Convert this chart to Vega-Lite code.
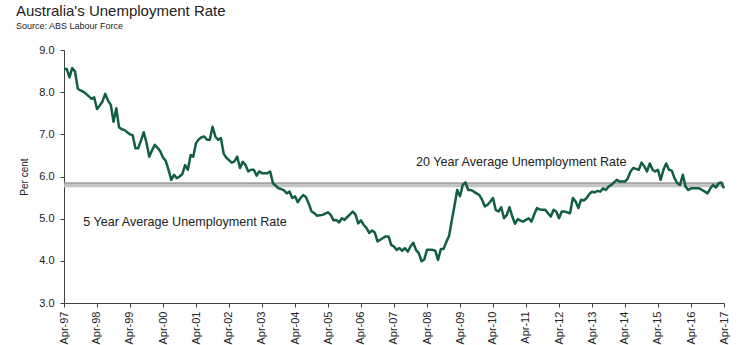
{
  "$schema": "https://vega.github.io/schema/vega-lite/v6.json",
  "width": 660,
  "height": 253,
  "autosize": {"type": "none"},
  "padding": {"left": 64, "top": 50, "right": 17, "bottom": 42},
  "background": "white",
  "config": {
    "view": {"stroke": null},
    "font": "Liberation Sans",
    "axis": {"grid": false, "domainColor": "#404040", "tickColor": "#404040", "labelColor": "#222222", "titleColor": "#222222", "labelFont": "Liberation Sans", "titleFont": "Liberation Sans"}
  },
  "title": {
    "text": "Australia's Unemployment Rate",
    "subtitle": "Source: ABS Labour Force",
    "anchor": "start",
    "frame": "group",
    "dx": -48,
    "offset": 13,
    "font": "Liberation Sans",
    "fontSize": 15,
    "fontWeight": "normal",
    "color": "#222222",
    "subtitleFont": "Liberation Sans",
    "subtitleFontSize": 9,
    "subtitleColor": "#222222",
    "subtitlePadding": 3
  },
  "datasets": {
    "rate": [
      {"d":"1997-04-01","v":8.55},{"d":"1997-05-01","v":8.55},{"d":"1997-06-01","v":8.35},{"d":"1997-07-01","v":8.57},{"d":"1997-08-01","v":8.49},{"d":"1997-09-01","v":8.08},{"d":"1997-10-01","v":8.04},{"d":"1997-11-01","v":8.01},{"d":"1997-12-01","v":7.96},
      {"d":"1998-01-01","v":7.9},{"d":"1998-02-01","v":7.84},{"d":"1998-03-01","v":7.88},{"d":"1998-04-01","v":7.6},{"d":"1998-05-01","v":7.68},{"d":"1998-06-01","v":7.78},{"d":"1998-07-01","v":7.96},{"d":"1998-08-01","v":7.8},{"d":"1998-09-01","v":7.7},{"d":"1998-10-01","v":7.3},{"d":"1998-11-01","v":7.62},{"d":"1998-12-01","v":7.17},
      {"d":"1999-01-01","v":7.12},{"d":"1999-02-01","v":7.1},{"d":"1999-03-01","v":7.05},{"d":"1999-04-01","v":7.0},{"d":"1999-05-01","v":6.98},{"d":"1999-06-01","v":6.67},{"d":"1999-07-01","v":6.67},{"d":"1999-08-01","v":6.85},{"d":"1999-09-01","v":7.05},{"d":"1999-10-01","v":6.8},{"d":"1999-11-01","v":6.47},{"d":"1999-12-01","v":6.62},
      {"d":"2000-01-01","v":6.75},{"d":"2000-02-01","v":6.68},{"d":"2000-03-01","v":6.6},{"d":"2000-04-01","v":6.45},{"d":"2000-05-01","v":6.37},{"d":"2000-06-01","v":6.16},{"d":"2000-07-01","v":5.92},{"d":"2000-08-01","v":6.04},{"d":"2000-09-01","v":5.96},{"d":"2000-10-01","v":6.0},{"d":"2000-11-01","v":6.06},{"d":"2000-12-01","v":6.27},
      {"d":"2001-01-01","v":6.16},{"d":"2001-02-01","v":6.51},{"d":"2001-03-01","v":6.47},{"d":"2001-04-01","v":6.79},{"d":"2001-05-01","v":6.88},{"d":"2001-06-01","v":6.93},{"d":"2001-07-01","v":6.95},{"d":"2001-08-01","v":6.87},{"d":"2001-09-01","v":6.87},{"d":"2001-10-01","v":7.18},{"d":"2001-11-01","v":6.95},{"d":"2001-12-01","v":6.87},
      {"d":"2002-01-01","v":6.91},{"d":"2002-02-01","v":6.55},{"d":"2002-03-01","v":6.45},{"d":"2002-04-01","v":6.39},{"d":"2002-05-01","v":6.33},{"d":"2002-06-01","v":6.36},{"d":"2002-07-01","v":6.47},{"d":"2002-08-01","v":6.2},{"d":"2002-09-01","v":6.35},{"d":"2002-10-01","v":6.27},{"d":"2002-11-01","v":6.12},{"d":"2002-12-01","v":6.16},
      {"d":"2003-01-01","v":6.16},{"d":"2003-02-01","v":6.02},{"d":"2003-03-01","v":6.12},{"d":"2003-04-01","v":6.08},{"d":"2003-05-01","v":6.08},{"d":"2003-06-01","v":6.08},{"d":"2003-07-01","v":6.12},{"d":"2003-08-01","v":5.84},{"d":"2003-09-01","v":5.78},{"d":"2003-10-01","v":5.72},{"d":"2003-11-01","v":5.7},{"d":"2003-12-01","v":5.67},
      {"d":"2004-01-01","v":5.6},{"d":"2004-02-01","v":5.64},{"d":"2004-03-01","v":5.49},{"d":"2004-04-01","v":5.53},{"d":"2004-05-01","v":5.39},{"d":"2004-06-01","v":5.49},{"d":"2004-07-01","v":5.56},{"d":"2004-08-01","v":5.51},{"d":"2004-09-01","v":5.35},{"d":"2004-10-01","v":5.17},{"d":"2004-11-01","v":5.13},{"d":"2004-12-01","v":5.07},
      {"d":"2005-01-01","v":5.08},{"d":"2005-02-01","v":5.09},{"d":"2005-03-01","v":5.12},{"d":"2005-04-01","v":5.15},{"d":"2005-05-01","v":5.09},{"d":"2005-06-01","v":4.96},{"d":"2005-07-01","v":4.97},{"d":"2005-08-01","v":4.91},{"d":"2005-09-01","v":5.01},{"d":"2005-10-01","v":4.97},{"d":"2005-11-01","v":5.04},{"d":"2005-12-01","v":5.1},
      {"d":"2006-01-01","v":5.17},{"d":"2006-02-01","v":5.09},{"d":"2006-03-01","v":4.89},{"d":"2006-04-01","v":4.96},{"d":"2006-05-01","v":4.85},{"d":"2006-06-01","v":4.78},{"d":"2006-07-01","v":4.66},{"d":"2006-08-01","v":4.72},{"d":"2006-09-01","v":4.67},{"d":"2006-10-01","v":4.46},{"d":"2006-11-01","v":4.5},{"d":"2006-12-01","v":4.54},
      {"d":"2007-01-01","v":4.58},{"d":"2007-02-01","v":4.58},{"d":"2007-03-01","v":4.38},{"d":"2007-04-01","v":4.34},{"d":"2007-05-01","v":4.26},{"d":"2007-06-01","v":4.3},{"d":"2007-07-01","v":4.24},{"d":"2007-08-01","v":4.3},{"d":"2007-09-01","v":4.22},{"d":"2007-10-01","v":4.34},{"d":"2007-11-01","v":4.43},{"d":"2007-12-01","v":4.26},
      {"d":"2008-01-01","v":4.18},{"d":"2008-02-01","v":3.99},{"d":"2008-03-01","v":4.03},{"d":"2008-04-01","v":4.26},{"d":"2008-05-01","v":4.26},{"d":"2008-06-01","v":4.26},{"d":"2008-07-01","v":4.24},{"d":"2008-08-01","v":4.02},{"d":"2008-09-01","v":4.28},{"d":"2008-10-01","v":4.28},{"d":"2008-11-01","v":4.45},{"d":"2008-12-01","v":4.59},
      {"d":"2009-01-01","v":4.97},{"d":"2009-02-01","v":5.33},{"d":"2009-03-01","v":5.68},{"d":"2009-04-01","v":5.53},{"d":"2009-05-01","v":5.8},{"d":"2009-06-01","v":5.86},{"d":"2009-07-01","v":5.68},{"d":"2009-08-01","v":5.68},{"d":"2009-09-01","v":5.64},{"d":"2009-10-01","v":5.6},{"d":"2009-11-01","v":5.56},{"d":"2009-12-01","v":5.45},
      {"d":"2010-01-01","v":5.29},{"d":"2010-02-01","v":5.33},{"d":"2010-03-01","v":5.4},{"d":"2010-04-01","v":5.49},{"d":"2010-05-01","v":5.21},{"d":"2010-06-01","v":5.17},{"d":"2010-07-01","v":5.27},{"d":"2010-08-01","v":5.01},{"d":"2010-09-01","v":5.09},{"d":"2010-10-01","v":5.27},{"d":"2010-11-01","v":5.05},{"d":"2010-12-01","v":4.88},
      {"d":"2011-01-01","v":4.99},{"d":"2011-02-01","v":4.95},{"d":"2011-03-01","v":4.93},{"d":"2011-04-01","v":4.97},{"d":"2011-05-01","v":5.01},{"d":"2011-06-01","v":4.93},{"d":"2011-07-01","v":5.1},{"d":"2011-08-01","v":5.25},{"d":"2011-09-01","v":5.22},{"d":"2011-10-01","v":5.21},{"d":"2011-11-01","v":5.21},{"d":"2011-12-01","v":5.13},
      {"d":"2012-01-01","v":5.05},{"d":"2012-02-01","v":5.21},{"d":"2012-03-01","v":5.17},{"d":"2012-04-01","v":5.01},{"d":"2012-05-01","v":5.17},{"d":"2012-06-01","v":5.17},{"d":"2012-07-01","v":5.15},{"d":"2012-08-01","v":5.13},{"d":"2012-09-01","v":5.49},{"d":"2012-10-01","v":5.41},{"d":"2012-11-01","v":5.25},{"d":"2012-12-01","v":5.45},
      {"d":"2013-01-01","v":5.43},{"d":"2013-02-01","v":5.49},{"d":"2013-03-01","v":5.58},{"d":"2013-04-01","v":5.64},{"d":"2013-05-01","v":5.62},{"d":"2013-06-01","v":5.66},{"d":"2013-07-01","v":5.64},{"d":"2013-08-01","v":5.72},{"d":"2013-09-01","v":5.68},{"d":"2013-10-01","v":5.76},{"d":"2013-11-01","v":5.8},{"d":"2013-12-01","v":5.86},
      {"d":"2014-01-01","v":5.92},{"d":"2014-02-01","v":5.88},{"d":"2014-03-01","v":5.88},{"d":"2014-04-01","v":5.88},{"d":"2014-05-01","v":5.95},{"d":"2014-06-01","v":6.12},{"d":"2014-07-01","v":6.2},{"d":"2014-08-01","v":6.18},{"d":"2014-09-01","v":6.16},{"d":"2014-10-01","v":6.33},{"d":"2014-11-01","v":6.24},{"d":"2014-12-01","v":6.12},
      {"d":"2015-01-01","v":6.31},{"d":"2015-02-01","v":6.16},{"d":"2015-03-01","v":6.12},{"d":"2015-04-01","v":6.16},{"d":"2015-05-01","v":5.92},{"d":"2015-06-01","v":6.16},{"d":"2015-07-01","v":6.31},{"d":"2015-08-01","v":6.16},{"d":"2015-09-01","v":6.14},{"d":"2015-10-01","v":5.96},{"d":"2015-11-01","v":5.84},{"d":"2015-12-01","v":5.8},
      {"d":"2016-01-01","v":6.04},{"d":"2016-02-01","v":5.76},{"d":"2016-03-01","v":5.68},{"d":"2016-04-01","v":5.72},{"d":"2016-05-01","v":5.72},{"d":"2016-06-01","v":5.72},{"d":"2016-07-01","v":5.72},{"d":"2016-08-01","v":5.68},{"d":"2016-09-01","v":5.64},{"d":"2016-10-01","v":5.6},{"d":"2016-11-01","v":5.72},{"d":"2016-12-01","v":5.8},
      {"d":"2017-01-01","v":5.74},{"d":"2017-02-01","v":5.84},{"d":"2017-03-01","v":5.86},{"d":"2017-04-01","v":5.72}
    ],
    "averages": [
      {"name":"5 Year Average Unemployment Rate","v":5.78},
      {"name":"20 Year Average Unemployment Rate","v":5.84}
    ],
    "labels": [
      {"name":"20 Year Average Unemployment Rate","d":"2007-12-01","v":6.25},
      {"name":"5 Year Average Unemployment Rate","d":"1997-11-01","v":4.83}
    ]
  },
  "layer": [
    {
      "data": {"name": "averages"},
      "mark": {"type": "rule"},
      "encoding": {
        "y": {"field": "v", "type": "quantitative"},
        "color": {"field": "name", "type": "nominal", "legend": null, "scale": {"domain": ["5 Year Average Unemployment Rate", "20 Year Average Unemployment Rate"], "range": ["#c4c4c4", "#a3a3a3"]}},
        "strokeWidth": {"field": "name", "type": "nominal", "legend": null, "scale": {"domain": ["5 Year Average Unemployment Rate", "20 Year Average Unemployment Rate"], "range": [3, 2]}}
      }
    },
    {
      "data": {"name": "rate"},
      "mark": {"type": "line", "color": "#125d45", "strokeWidth": 2.5, "strokeJoin": "round"},
      "encoding": {
        "x": {
          "field": "d", "type": "temporal",
          "scale": {"type": "utc", "domain": [859852800000, 1491004800000]},
          "axis": {
            "title": null,
            "values": [859852800000, 891388800000, 922924800000, 954547200000, 986083200000, 1017619200000, 1049155200000, 1080777600000, 1112313600000, 1143849600000, 1175385600000, 1207008000000, 1238544000000, 1270080000000, 1301616000000, 1333238400000, 1364774400000, 1396310400000, 1427846400000, 1459468800000, 1491004800000],
            "tickCount": 40,
            "labelExpr": "utcFormat(datum.value, '%b-%y')",
            "labelAngle": -90,
            "labelAlign": "right",
            "labelBaseline": "middle",
            "labelFontSize": 11,
            "labelPadding": 4,
            "tickSize": 4,
            "labelOverlap": false,
            "labelFlush": false,
            "labelBound": false
          }
        },
        "y": {
          "field": "v", "type": "quantitative",
          "scale": {"domain": [3, 9], "nice": false, "zero": false},
          "axis": {
            "title": "Per cent",
            "titleFontSize": 10,
            "titleFontWeight": "normal",
            "titlePadding": 9,
            "values": [3, 4, 5, 6, 7, 8, 9],
            "format": ".1f",
            "labelFontSize": 11,
            "labelPadding": 6,
            "tickSize": 4
          }
        }
      }
    },
    {
      "data": {"name": "labels"},
      "mark": {"type": "text", "align": "left", "baseline": "alphabetic", "fontSize": 12.6, "font": "Liberation Sans", "color": "#222222"},
      "encoding": {
        "x": {"field": "d", "type": "temporal"},
        "y": {"field": "v", "type": "quantitative"},
        "text": {"field": "name"}
      }
    }
  ]
}
